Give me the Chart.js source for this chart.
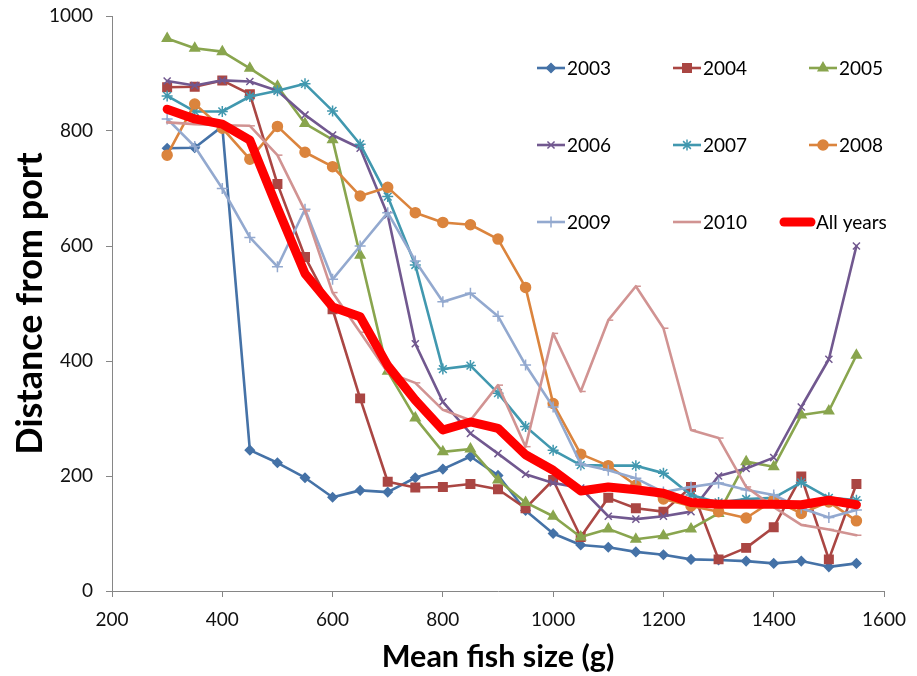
<!DOCTYPE html>
<html><head><meta charset="utf-8">
<script src="https://cdn.jsdelivr.net/npm/chart.js@4"></script>
<style>html,body{margin:0;padding:0;background:#fff}#wrap{width:917px;height:676px;position:relative}</style>
</head><body><div id="wrap"><canvas id="c"></canvas></div>
<script>
// ---- data ----
const fishSize = [300,350,400,450,500,550,600,650,700,750,800,850,900,950,1000,1050,1100,1150,1200,1250,1300,1350,1400,1450,1500,1550];
const y2003 = [770,771,808,245,223,197,163,175,172,197,212,234,201,140,100,80,76,68,63,55,54,52,48,52,42,48];
const y2004 = [876,877,888,864,708,581,490,335,190,180,181,186,177,144,193,94,162,144,138,181,55,75,111,199,55,186];
const y2005 = [961,944,938,909,878,813,785,584,382,301,242,247,193,154,130,94,108,90,96,108,135,225,216,306,313,410];
const y2006 = [887,879,888,886,870,828,793,770,654,430,329,274,239,203,188,179,130,125,130,138,200,213,232,320,403,600];
const y2007 = [861,834,834,860,870,882,835,777,686,567,386,392,344,286,245,219,218,218,205,167,154,160,162,189,162,158];
const y2008 = [758,847,805,751,808,763,738,687,702,658,641,637,612,528,326,238,218,184,160,148,138,127,158,135,155,122];
const y2009 = [821,773,700,615,564,664,542,600,658,574,503,518,478,393,320,221,210,196,172,181,188,176,167,144,128,141];
const y2010 = [815,812,810,809,758,661,519,450,380,362,315,297,358,251,448,347,471,530,457,280,266,181,146,115,107,97];
const yAll  = [838,821,812,784,666,552,494,477,392,332,280,294,283,237,210,174,181,176,170,154,151,151,151,150,158,150];
const seriesNames = ['2003','2004','2005','2006','2007','2008','2009','2010','All years'];
const seriesValues = [y2003,y2004,y2005,y2006,y2007,y2008,y2009,y2010,yAll];
const xTickValues = [200,400,600,800,1000,1200,1400,1600];
const yTickValues = [0,200,400,600,800,1000];

// ---- styles ----
const styles = [
  {c:'#4572A7', p:'rectRot', r:4.5},
  {c:'#AA4643', p:'rect', r:6},
  {c:'#89A54E', p:'triangle', r:5.5},
  {c:'#71588F', p:'crossRot', r:5},
  {c:'#4198AF', p:'star', r:5.5},
  {c:'#DB843D', p:'circle', r:5},
  {c:'#93A9CF', p:'cross', r:5.5},
  {c:'#D19392', p:'dash', r:5},
  {c:'#FF0000', p:false, r:0}
];

const datasets = seriesNames.map((name, i) => {
  const s = styles[i];
  const isAll = i === seriesNames.length - 1;
  return {
    label: name,
    data: fishSize.map((x, k) => ({x: x, y: seriesValues[i][k]})),
    borderColor: s.c,
    backgroundColor: s.c,
    borderWidth: isAll ? 9 : 2.6,
    pointStyle: s.p,
    pointRadius: s.r,
    pointBorderWidth: 1.5,
    pointBackgroundColor: s.c,
    pointBorderColor: s.c,
    tension: 0,
    borderJoinStyle: 'round',
    borderCapStyle: 'round',
    order: isAll ? 0 : (seriesNames.length - i)
  };
});

const gridLegend = {
  id: 'gridLegend',
  afterDraw(chart) {
    const ctx = chart.ctx;
    ctx.save();
    ctx.font = '19px Lato';
    ctx.textBaseline = 'middle';
    ctx.textAlign = 'left';
    chart.data.datasets.forEach((ds, i) => {
      const col = i % 3, row = Math.floor(i / 3);
      const x0 = 537 + col * 136;
      const y = 68 + row * 77;
      const isAll = i === chart.data.datasets.length - 1;
      ctx.strokeStyle = ds.borderColor;
      ctx.lineCap = 'round';
      if (isAll) {
        ctx.lineWidth = 9;
        ctx.beginPath(); ctx.moveTo(x0 - 25, y); ctx.lineTo(x0 + 2, y); ctx.stroke();
      } else {
        ctx.lineWidth = 2.6;
        ctx.lineCap = 'butt';
        ctx.beginPath(); ctx.moveTo(x0, y); ctx.lineTo(x0 + 28, y); ctx.stroke();
        ctx.fillStyle = ds.backgroundColor;
        ctx.lineWidth = 1.5;
        Chart.helpers.drawPoint(ctx, {pointStyle: ds.pointStyle, radius: ds.pointRadius, borderWidth: 1.5, rotation: 0}, x0 + 14, y);
      }
      ctx.fillStyle = '#000';
      ctx.fillText(ds.label, isAll ? x0 + 7 : x0 + 30, y + 1);
    });
    ctx.restore();
  }
};

new Chart(document.getElementById('c'), {
  type: 'line',
  data: {datasets: datasets},
  plugins: [gridLegend],
  options: {
    responsive: true,
    maintainAspectRatio: false,
    animation: false,
    layout: {padding: {top: 16, right: 33, left: 0, bottom: 0}},
    plugins: {legend: {display: false}, tooltip: {enabled: false}},
    scales: {
      x: {
        type: 'linear', min: 200, max: 1600,
        afterBuildTicks: (s) => { s.ticks = xTickValues.map(v => ({value: v})); },
        afterFit: (s) => { s.height = 85; s.paddingLeft = 0; s.paddingRight = 0; },
        grid: {display: true, drawOnChartArea: false, drawTicks: true, tickLength: 6, color: '#868686'},
        border: {color: '#868686', width: 1},
        ticks: {color: '#111', font: {family: 'Lato', size: 19}, padding: 11, maxRotation: 0, callback: (v) => String(v)},
        title: {display: true, text: 'Mean fish size (g)', color: '#000', font: {family: 'Lato', size: 30.5, weight: 'bold'}, padding: {top: 0, bottom: 1}}
      },
      y: {
        type: 'linear', min: 0, max: 1000,
        afterBuildTicks: (s) => { s.ticks = yTickValues.map(v => ({value: v})); },
        afterFit: (s) => { s.width = 112; s.paddingTop = 0; s.paddingBottom = 0; },
        grid: {display: true, drawOnChartArea: false, drawTicks: true, tickLength: 6, color: '#868686'},
        border: {color: '#868686', width: 1},
        ticks: {color: '#111', font: {family: 'Lato', size: 19}, padding: 13, callback: (v) => String(v)},
        title: {display: true, text: 'Distance from port', color: '#000', font: {family: 'Lato', size: 36, weight: 'bold'}, padding: {top: 9, bottom: 0}}
      }
    }
  }
});
</script>
</body></html>
